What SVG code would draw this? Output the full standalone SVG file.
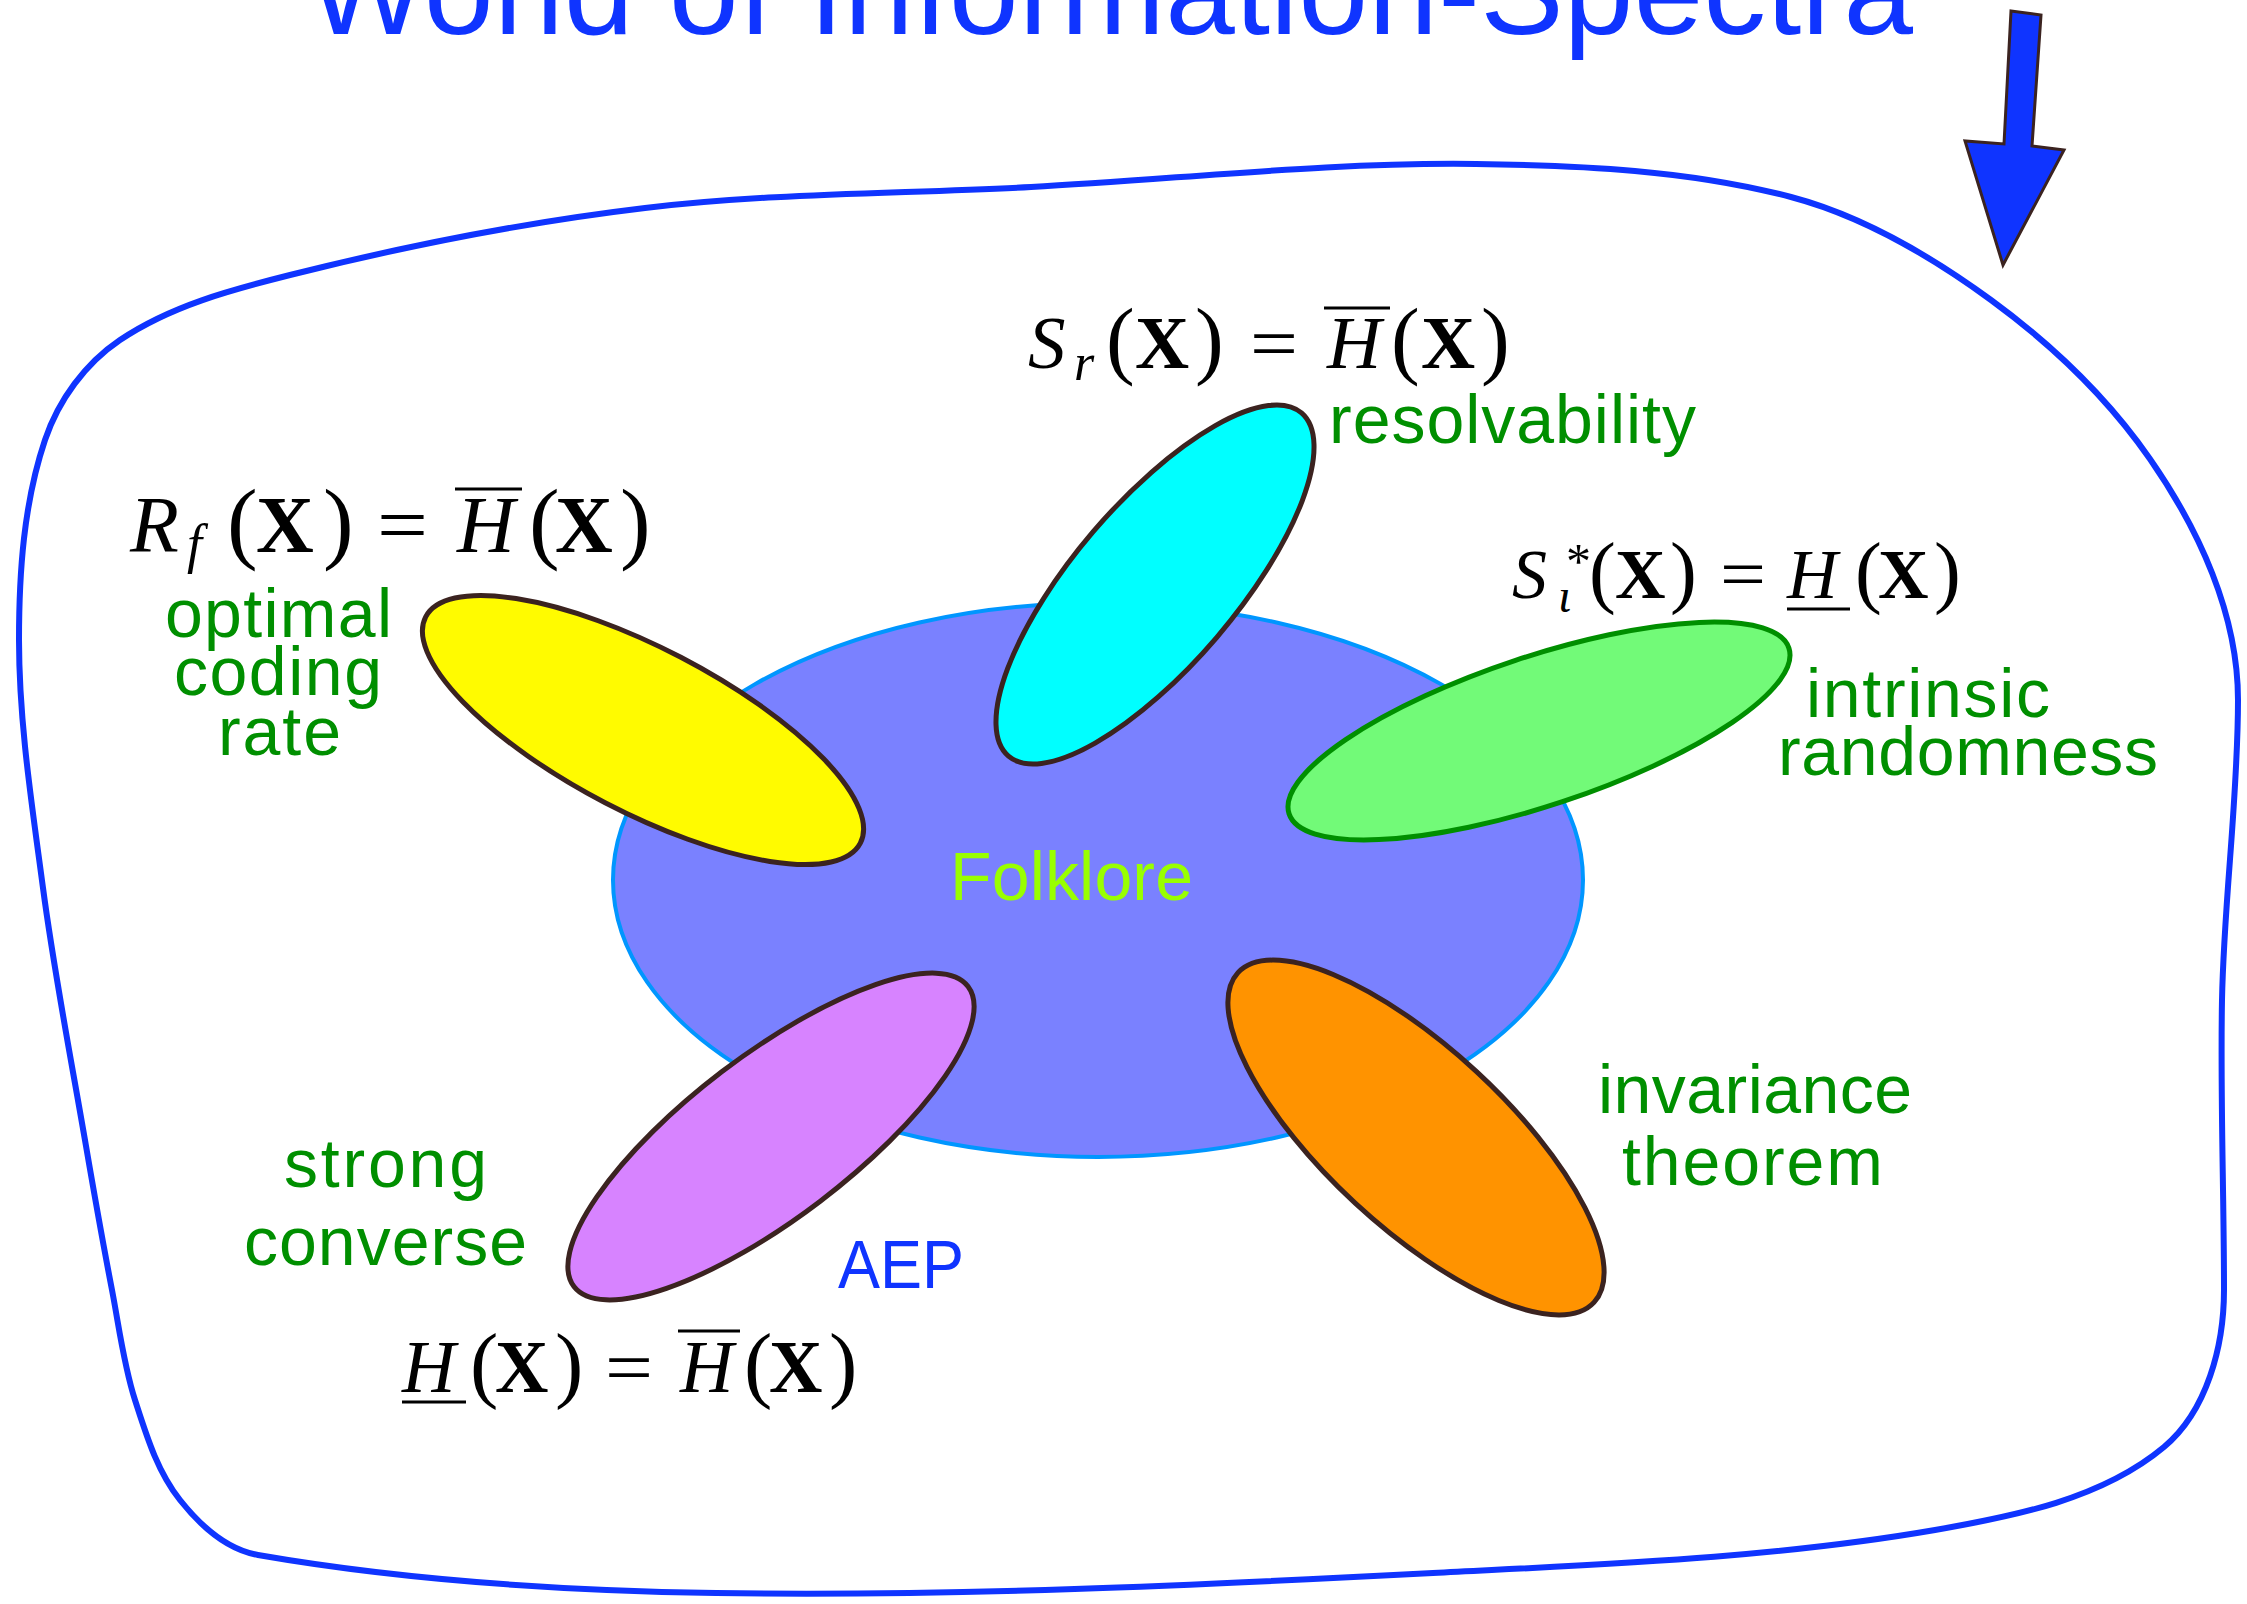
<svg xmlns="http://www.w3.org/2000/svg" width="2247" height="1604" viewBox="0 0 2247 1604">
<style>
.lbl{font-family:"Liberation Sans",Arial,sans-serif;font-size:68px;fill:#008f00}
.title{font-family:"Liberation Sans",Arial,sans-serif;font-size:125px;fill:#0f34ff}
.m{font-family:"Liberation Serif","Times New Roman",serif;fill:#000}
.it{font-style:italic}
.bf{font-weight:bold}
.p{font-size:1.15em}
.petal{stroke:#3b2320;stroke-width:5}
.bar{stroke:#000;stroke-width:3}
</style>
<rect width="2247" height="1604" fill="#fff"/>
<text class="title" x="308" y="34" textLength="1605">World of Information-Spectra</text>
<g id="world">
<path d="M19,640 C19,573 23.6,503.5 45,440 C58.4,400.2 85.2,363.5 120,340 C170.6,305.9 230.8,289.9 290,275 C406.4,245.7 525.8,222.2 645,208 C773.1,192.8 902.2,193.8 1031,187 C1179.8,179.1 1327,162.1 1476,164 C1582,165.4 1688.5,170 1791,197 C1863.5,216.1 1930.4,255.7 1991,300 C2051.6,344.3 2107.2,397.4 2150,459 C2199,529.6 2238,614 2238,700 C2238,800 2223.9,900 2222,1000 C2220.2,1097 2224,1193 2224,1290 C2224,1346 2207,1411.1 2164,1447 C2101.9,1498.9 2014.8,1516.2 1935,1530 C1769.5,1558.6 1600.8,1564.3 1433,1573 C1194.3,1585.3 955,1596.6 716,1593 C563,1590.7 408.7,1581.2 258,1555 C226.5,1549.5 199.9,1525.1 180,1500 C157,1471 146.4,1435.2 135,1400 C123.6,1364.8 119,1326.3 112,1290 C102.7,1241.9 94.3,1194.3 86,1146 C71.3,1060.2 54.4,974.2 43,888 C32.1,805.7 19,723 19,640 Z" fill="none" stroke="#0f34ff" stroke-width="6"/>
</g>
<g id="arrow">
<polygon points="2011,11 2041,15 2032,146 2064,150 2003,265 1965,141 2004,144" fill="#0f34ff" stroke="#3b2320" stroke-width="3"/>
</g>
<g id="folklore">
<ellipse cx="1098" cy="880" rx="485" ry="277" fill="#7a81ff" stroke="#0096ff" stroke-width="4"/>
<text class="lbl" x="950" y="900" textLength="243" style="fill:#99ff00">Folklore</text>
</g>
<g id="optimal">
<ellipse class="petal" cx="643" cy="730" rx="245" ry="82" transform="rotate(27.5 643 730)" fill="#fffb00"/>
<text class="m" y="552" font-size="80"><tspan class="it" x="130">R</tspan><tspan class="it" x="187" y="562" font-size="54">f</tspan><tspan class="p" x="227" y="552">(</tspan><tspan class="bf" x="256">X</tspan><tspan class="p" x="323">)</tspan><tspan x="377" textLength="51" lengthAdjust="spacingAndGlyphs">=</tspan><tspan class="it" x="457">H</tspan><tspan class="p" x="529">(</tspan><tspan class="bf" x="555">X</tspan><tspan class="p" x="620">)</tspan></text>
<line class="bar" x1="455" y1="489" x2="522" y2="489"/>
<text class="lbl" x="165" y="637" textLength="227">optimal</text>
<text class="lbl" x="174" y="695" textLength="208">coding</text>
<text class="lbl" x="218" y="755" textLength="123">rate</text>
</g>
<g id="resolvability">
<ellipse class="petal" cx="1155" cy="584.5" rx="225.6" ry="81.3" transform="rotate(-49.5 1155 584.5)" fill="#00ffff"/>
<text class="m" y="368" font-size="75"><tspan class="it" x="1028">S</tspan><tspan class="it" x="1074" y="380" font-size="52">r</tspan><tspan class="p" x="1106" y="368">(</tspan><tspan class="bf" x="1135">X</tspan><tspan class="p" x="1195">)</tspan><tspan x="1250" textLength="48" lengthAdjust="spacingAndGlyphs">=</tspan><tspan class="it" x="1327">H</tspan><tspan class="p" x="1391">(</tspan><tspan class="bf" x="1421">X</tspan><tspan class="p" x="1481">)</tspan></text>
<line class="bar" x1="1324" y1="308" x2="1390" y2="308"/>
<text class="lbl" x="1329" y="443" textLength="367">resolvability</text>
</g>
<g id="intrinsic">
<ellipse cx="1539" cy="731" rx="263.3" ry="74.5" transform="rotate(-18.35 1539 731)" fill="#72fa78" stroke="#008f00" stroke-width="5"/>
<text class="m" y="598" font-size="70"><tspan class="it" x="1512">S</tspan><tspan x="1566" y="578" font-size="50">*</tspan><tspan class="it" x="1558" y="612" font-size="48">ι</tspan><tspan class="p" x="1589" y="598">(</tspan><tspan class="bf" x="1615">X</tspan><tspan class="p" x="1670">)</tspan><tspan x="1720" textLength="46" lengthAdjust="spacingAndGlyphs">=</tspan><tspan class="it" x="1787">H</tspan><tspan class="p" x="1855">(</tspan><tspan class="bf" x="1878">X</tspan><tspan class="p" x="1934">)</tspan></text>
<line class="bar" x1="1787" y1="609" x2="1850" y2="609"/>
<text class="lbl" x="1806" y="717" textLength="244">intrinsic</text>
<text class="lbl" x="1778" y="775" textLength="380">randomness</text>
</g>
<g id="strong">
<ellipse class="petal" cx="771" cy="1136.5" rx="247.7" ry="81.3" transform="rotate(-37.3 771 1136.5)" fill="#d783ff"/>
<text class="m" y="1392" font-size="74"><tspan class="it" x="402">H</tspan><tspan class="p" x="470">(</tspan><tspan class="bf" x="495">X</tspan><tspan class="p" x="555">)</tspan><tspan x="605" textLength="48" lengthAdjust="spacingAndGlyphs">=</tspan><tspan class="it" x="680">H</tspan><tspan class="p" x="744">(</tspan><tspan class="bf" x="769">X</tspan><tspan class="p" x="829">)</tspan></text>
<line class="bar" x1="402" y1="1402" x2="466" y2="1402"/>
<line class="bar" x1="678" y1="1331" x2="740" y2="1331"/>
<text class="lbl" x="284" y="1187" textLength="203">strong</text>
<text class="lbl" x="244" y="1265" textLength="283">converse</text>
<text class="lbl" x="838" y="1288" textLength="126" lengthAdjust="spacingAndGlyphs" style="fill:#0f34ff">AEP</text>
</g>
<g id="invariance">
<ellipse class="petal" cx="1416" cy="1137.5" rx="242.6" ry="89.5" transform="rotate(42.8 1416 1137.5)" fill="#ff9300"/>
<text class="lbl" x="1598" y="1113" textLength="314">invariance</text>
<text class="lbl" x="1622" y="1185" textLength="261">theorem</text>
</g>
<g id="connectors"/>
</svg>
